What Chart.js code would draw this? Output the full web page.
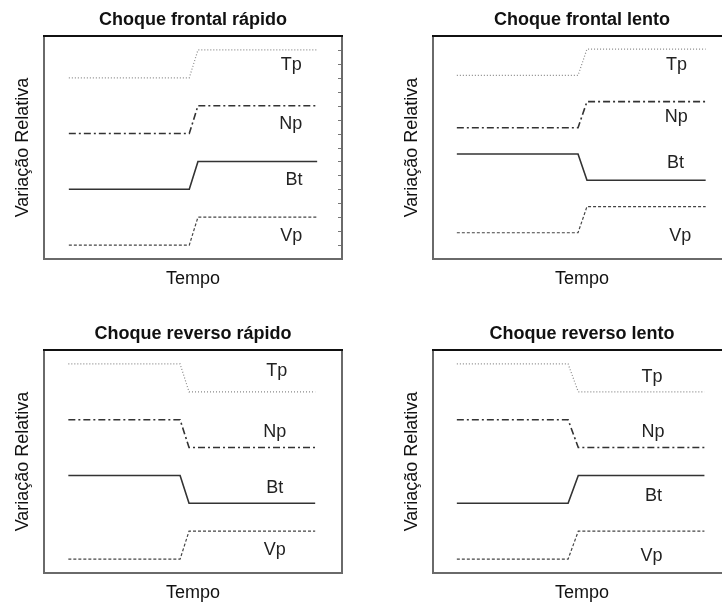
<!DOCTYPE html>
<html>
<head>
<meta charset="utf-8">
<script src="https://cdn.jsdelivr.net/npm/chart.js@4.4.1/dist/chart.umd.min.js"></script>
<style>
  html, body { margin: 0; padding: 0; background: #fff; overflow: hidden; width: 722px; height: 608px; }
  .panel { position: absolute; }
</style>
</head>
<body>
<div class="panel" style="left:0px;top:0px"><canvas id="c1" width="389" height="300"></canvas></div>
<div class="panel" style="left:389px;top:0px"><canvas id="c2" width="400" height="300"></canvas></div>
<div class="panel" style="left:0px;top:314px"><canvas id="c3" width="389" height="300"></canvas></div>
<div class="panel" style="left:389px;top:314px"><canvas id="c4" width="400" height="300"></canvas></div>
<script>
// ---- data ----
const seriesNames = ['Tp', 'Np', 'Bt', 'Vp'];
const panelTitles = ['Choque frontal rápido', 'Choque frontal lento', 'Choque reverso rápido', 'Choque reverso lento'];
const yAxisTitle = 'Variação Relativa';
const xAxisTitle = 'Tempo';

// time points of each curve: start, change begins, change ends, end
const frontalRapidoTime = [1.0, 5.85, 6.2, 11.0];
const frontalLentoTime  = [0.96, 5.84, 6.2, 10.98];
const reversoRapidoTime = [0.98, 5.48, 5.84, 10.92];
const reversoLentoTime  = [0.96, 5.44, 5.85, 10.93];

// levels before / after the change, in order Tp, Np, Bt, Vp
const frontalRapidoBefore = [6, 4, 2, 0];
const frontalRapidoAfter  = [7, 5, 3, 1];
const frontalLentoBefore  = [6, 4, 3, 0];
const frontalLentoAfter   = [7, 5, 2, 1];
const reversoRapidoBefore = [7, 5, 3, 0];
const reversoRapidoAfter  = [6, 4, 2, 1];
const reversoLentoBefore  = [7, 5, 2, 0];
const reversoLentoAfter   = [6, 4, 3, 1];

// series label positions (data units), order Tp, Np, Bt, Vp
const frontalRapidoLabelX = [9.96, 9.94, 10.07, 9.96];
const frontalRapidoLabelY = [6.45, 4.35, 2.35, 0.31];
const frontalLentoLabelX  = [9.81, 9.8, 9.77, 9.96];
const frontalLentoLabelY  = [6.4, 4.43, 2.66, -0.13];
const reversoRapidoLabelX = [9.37, 9.29, 9.29, 9.29];
const reversoRapidoLabelY = [6.76, 4.56, 2.54, 0.33];
const reversoLentoLabelX  = [8.82, 8.86, 8.88, 8.8];
const reversoLentoLabelY  = [6.52, 4.56, 2.26, 0.1];

// y axis ranges
const yMinTop = -0.5, yMinTopRight = -1.0, yMinBottom = -0.5, yMax = 7.5;
const xMin = 0, xMax = 12;
const rightTickValues = [0, 0.5, 1, 1.5, 2, 2.5, 3, 3.5, 4, 4.5, 5, 5.5, 6, 6.5, 7];

// ---- styles ----
const FONT = "'Liberation Sans', Arial, Helvetica, sans-serif";
const seriesStyles = {
  Tp: { borderColor: '#8a8a8a', borderWidth: 1.2, borderDash: [1, 2] },
  Np: { borderColor: '#333333', borderWidth: 1.6, borderDash: [7, 3, 2, 3] },
  Bt: { borderColor: '#333333', borderWidth: 1.6, borderDash: [] },
  Vp: { borderColor: '#444444', borderWidth: 1.2, borderDash: [3, 2] }
};

const framePlugin = {
  id: 'frame',
  afterDatasetsDraw(chart, args, opts) {
    const { ctx, chartArea: a } = chart;
    ctx.save();
    // right tick marks
    if (opts.rightTicks) {
      const ys = chart.scales.y;
      ctx.strokeStyle = '#777';
      ctx.lineWidth = 1;
      rightTickValues.forEach(v => {
        const p = Math.round(ys.getPixelForValue(v)) + 0.5;
        ctx.beginPath();
        ctx.moveTo(a.right - 4, p);
        ctx.lineTo(a.right, p);
        ctx.stroke();
      });
    }
    ctx.lineWidth = 2;
    ctx.strokeStyle = '#6a6a6a';
    ctx.beginPath();
    ctx.moveTo(a.left, a.top);
    ctx.lineTo(a.left, a.bottom);
    ctx.lineTo(a.right, a.bottom);
    ctx.lineTo(a.right, a.top);
    ctx.stroke();
    ctx.strokeStyle = '#111';
    ctx.beginPath();
    ctx.moveTo(a.left - 1, a.top);
    ctx.lineTo(a.right + 1, a.top);
    ctx.stroke();
    // series labels
    const xs = chart.scales.x, ys = chart.scales.y;
    ctx.fillStyle = '#222';
    ctx.font = '18px ' + FONT;
    ctx.textAlign = 'center';
    ctx.textBaseline = 'middle';
    seriesNames.forEach((n, i) => {
      ctx.fillText(n, xs.getPixelForValue(opts.labelX[i]), ys.getPixelForValue(opts.labelY[i]));
    });
    ctx.restore();
  }
};

function makeChart(id, title, time, before, after, labelX, labelY, yMin, rightPad, rightTicks) {
  const datasets = seriesNames.map((n, i) => Object.assign({
    label: n,
    data: [
      { x: time[0], y: before[i] },
      { x: time[1], y: before[i] },
      { x: time[2], y: after[i] },
      { x: time[3], y: after[i] }
    ],
    showLine: true,
    fill: false,
    tension: 0,
    pointRadius: 0,
    pointHoverRadius: 0
  }, seriesStyles[n]));

  return new Chart(document.getElementById(id), {
    type: 'scatter',
    data: { datasets },
    plugins: [framePlugin],
    options: {
      responsive: false,
      animation: false,
      devicePixelRatio: 1,
      layout: { padding: { left: 0, top: 0, right: rightPad, bottom: 0 } },
      plugins: {
        legend: { display: false },
        tooltip: { enabled: false },
        title: {
          display: true,
          text: title,
          fullSize: false,
          color: '#111',
          font: { family: FONT, size: 18, weight: 'bold', lineHeight: 1.2 },
          padding: { top: 9, bottom: 5.4 }
        },
        frame: { labelX, labelY, rightTicks }
      },
      scales: {
        x: {
          type: 'linear', min: xMin, max: xMax,
          grid: { display: false },
          border: { display: false },
          ticks: { display: false },
          title: { display: true, text: xAxisTitle, color: '#111',
                   font: { family: FONT, size: 18, lineHeight: 1.2 },
                   padding: { top: 0, bottom: 10 } },
          afterFit(s) { s.height = 41; }
        },
        y: {
          type: 'linear', min: yMin, max: yMax,
          grid: { display: false },
          border: { display: false },
          ticks: { display: false },
          title: { display: true, text: yAxisTitle, color: '#111',
                   font: { family: FONT, size: 18, lineHeight: 1.2 },
                   padding: { top: 12.2, bottom: 0 } },
          afterFit(s) { s.width = 44; }
        }
      }
    }
  });
}

makeChart('c1', panelTitles[0], frontalRapidoTime, frontalRapidoBefore, frontalRapidoAfter,
          frontalRapidoLabelX, frontalRapidoLabelY, yMinTop, 47, true);
makeChart('c2', panelTitles[1], frontalLentoTime, frontalLentoBefore, frontalLentoAfter,
          frontalLentoLabelX, frontalLentoLabelY, yMinTopRight, 58, false);
makeChart('c3', panelTitles[2], reversoRapidoTime, reversoRapidoBefore, reversoRapidoAfter,
          reversoRapidoLabelX, reversoRapidoLabelY, yMinBottom, 47, false);
makeChart('c4', panelTitles[3], reversoLentoTime, reversoLentoBefore, reversoLentoAfter,
          reversoLentoLabelX, reversoLentoLabelY, yMinBottom, 58, false);
</script>
</body>
</html>
